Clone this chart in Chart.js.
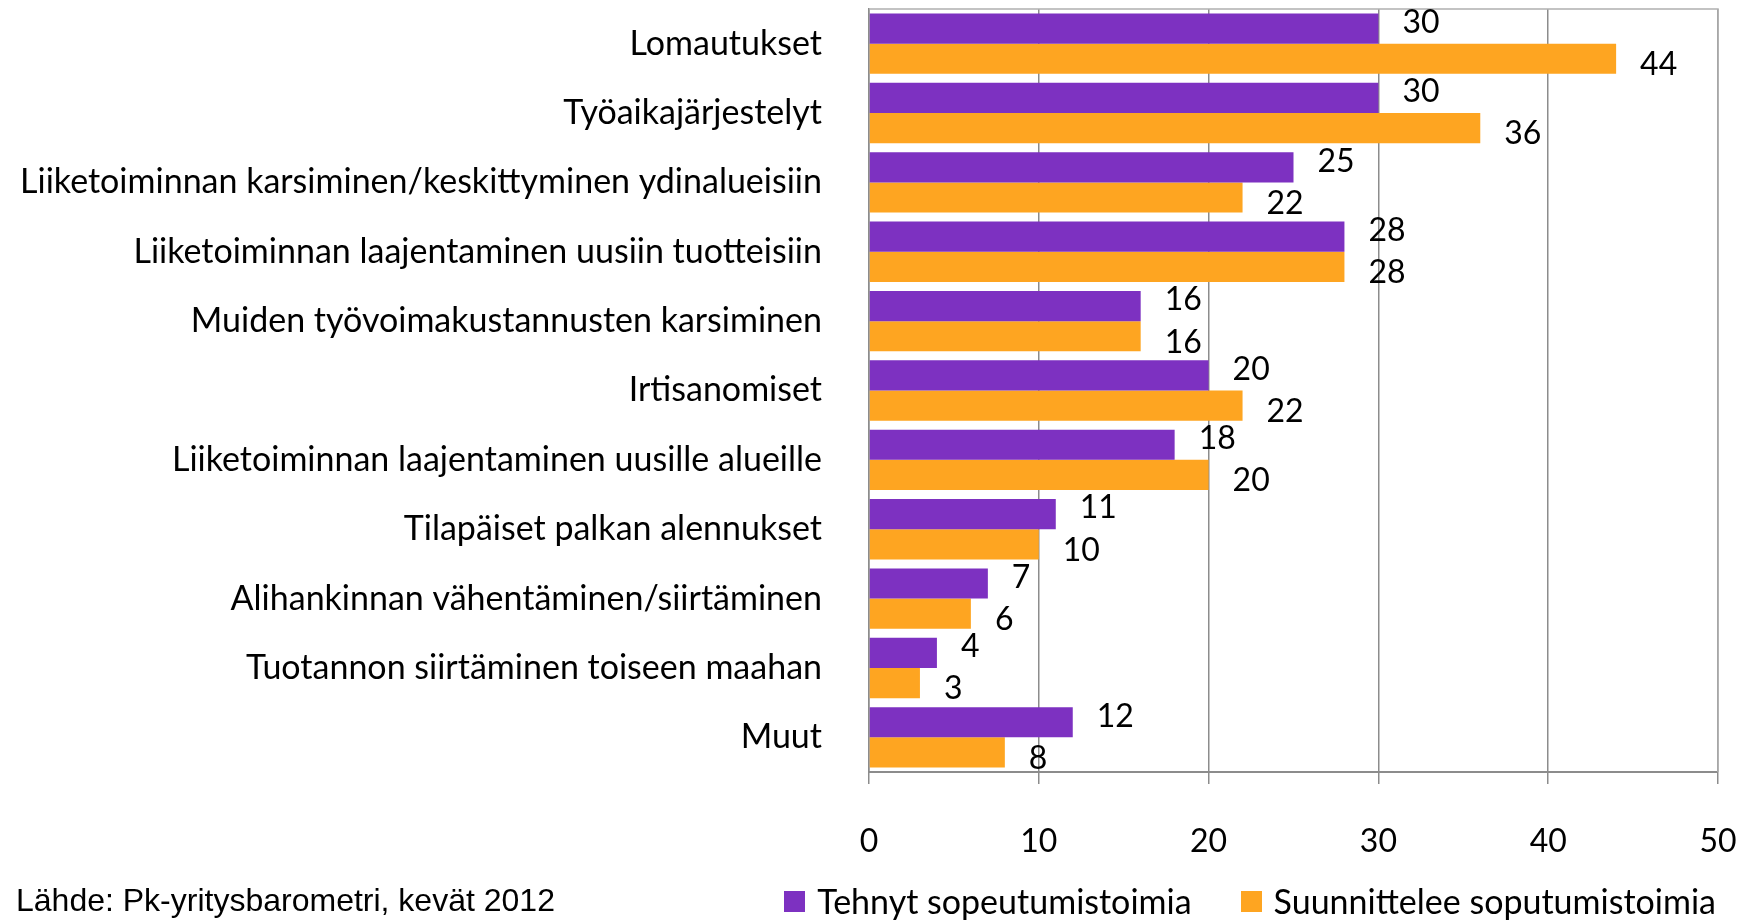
<!DOCTYPE html>
<html>
<head>
<meta charset="utf-8">
<script src="https://cdn.jsdelivr.net/npm/chart.js@4.4.1/dist/chart.umd.min.js"></script>
<style>
  html, body { margin: 0; padding: 0; background: #fff; }
  #wrap { position: relative; width: 1755px; height: 923px; }
  #source {
    position: absolute; left: 16px; top: 882px;
    font-family: "Liberation Sans", Arial, sans-serif; font-size: 32px; color: #000;
  }
  #legend {
    position: absolute; right: 39px; top: 881px; height: 40px;
    display: flex; align-items: center;
    font-family: Lato, sans-serif; font-size: 34px; line-height: 40px; color: #000;
  }
  #legend .item { display: flex; align-items: center; margin-left: 49px; }
  #legend .box { width: 21px; height: 21px; margin-right: 12px; }
</style>
</head>
<body>
<div id="wrap">
  <canvas id="myChart" width="1755" height="923"></canvas>
  <div id="source">Lähde: Pk-yritysbarometri, kevät 2012</div>
  <div id="legend"></div>
</div>
<script>
var categories = [
  'Lomautukset',
  'Työaikajärjestelyt',
  'Liiketoiminnan karsiminen/keskittyminen ydinalueisiin',
  'Liiketoiminnan laajentaminen uusiin tuotteisiin',
  'Muiden työvoimakustannusten karsiminen',
  'Irtisanomiset',
  'Liiketoiminnan laajentaminen uusille alueille',
  'Tilapäiset palkan alennukset',
  'Alihankinnan vähentäminen/siirtäminen',
  'Tuotannon siirtäminen toiseen maahan',
  'Muut'
];
var tehnyt = [30, 30, 25, 28, 16, 20, 18, 11, 7, 4, 12];
var suunnittelee = [44, 36, 22, 28, 16, 22, 20, 10, 6, 3, 8];
var seriesNames = ['Tehnyt sopeutumistoimia', 'Suunnittelee soputumistoimia'];
var seriesColors = ['#7D31C1', '#FEA521'];
var xTicks = [0, 10, 20, 30, 40, 50];

var mainFont = 'Lato';

// draws the value next to each bar end, like excel does
var valueLabels = {
  id: 'valueLabels',
  afterDatasetsDraw(chart) {
    var ctx = chart.ctx;
    ctx.save();
    ctx.font = '32px ' + mainFont;
    ctx.fillStyle = '#000';
    ctx.textAlign = 'left';
    ctx.textBaseline = 'middle';
    chart.data.datasets.forEach((ds, i) => {
      var meta = chart.getDatasetMeta(i);
      meta.data.forEach((bar, j) => {
        var dy = i === 0 ? -6 : 6;
        ctx.fillText(ds.data[j], bar.x + 24, bar.y + dy);
      });
    });
    ctx.restore();
  }
};

// top + right frame of the plot area
var frame = {
  id: 'frame',
  beforeDatasetsDraw(chart) {
    var a = chart.chartArea;
    var ctx = chart.ctx;
    ctx.save();
    ctx.strokeStyle = '#b0b0b0';
    ctx.lineWidth = 1.5;
    ctx.beginPath();
    ctx.moveTo(a.left, a.top);
    ctx.lineTo(a.right, a.top);
    ctx.lineTo(a.right, a.bottom);
    ctx.stroke();
    ctx.restore();
  }
};

var ctx = document.getElementById('myChart');

var chart = new Chart(ctx, {
  type: 'bar',
  data: {
    labels: categories,
    datasets: [{
      label: seriesNames[0],
      data: tehnyt,
      backgroundColor: seriesColors[0],
      categoryPercentage: 0.87,
      barPercentage: 1.0
    }, {
      label: seriesNames[1],
      data: suunnittelee,
      backgroundColor: seriesColors[1],
      categoryPercentage: 0.87,
      barPercentage: 1.0
    }]
  },
  options: {
    indexAxis: 'y',
    responsive: false,
    animation: false,
    layout: { padding: { top: 9, right: 0, left: 0, bottom: 0 } },
    scales: {
      x: {
        min: 0,
        max: 50,
        afterBuildTicks: (scale) => { scale.ticks = xTicks.map(v => ({ value: v })); },
        afterFit: (scale) => { scale.height = 151; scale.paddingLeft = 0; scale.paddingRight = 37; },
        grid: { color: '#8c8c8c', lineWidth: 1.5, tickLength: 12, tickColor: '#8c8c8c' },
        border: { color: '#8c8c8c', width: 2 },
        ticks: { color: '#000', font: { family: mainFont, size: 32 }, padding: 38 }
      },
      y: {
        grid: { display: false },
        border: { color: '#8c8c8c', width: 1.5 },
        afterFit: (scale) => { scale.width = 869; scale.paddingTop = 0; scale.paddingBottom = 0; },
        ticks: { color: '#000', font: { family: mainFont, size: 34 }, padding: 39, autoSkip: false }
      }
    },
    plugins: {
      legend: { display: false },
      tooltip: { enabled: false }
    }
  },
  plugins: [frame, valueLabels]
});

// legend built from the chart's own datasets
var legendEl = document.getElementById('legend');
chart.data.datasets.forEach(ds => {
  let item = document.createElement('span');
  item.className = 'item';
  let box = document.createElement('span');
  box.className = 'box';
  box.style.background = ds.backgroundColor;
  item.append(box);
  item.append(document.createTextNode(ds.label));
  legendEl.append(item);
});
</script>
</body>
</html>
